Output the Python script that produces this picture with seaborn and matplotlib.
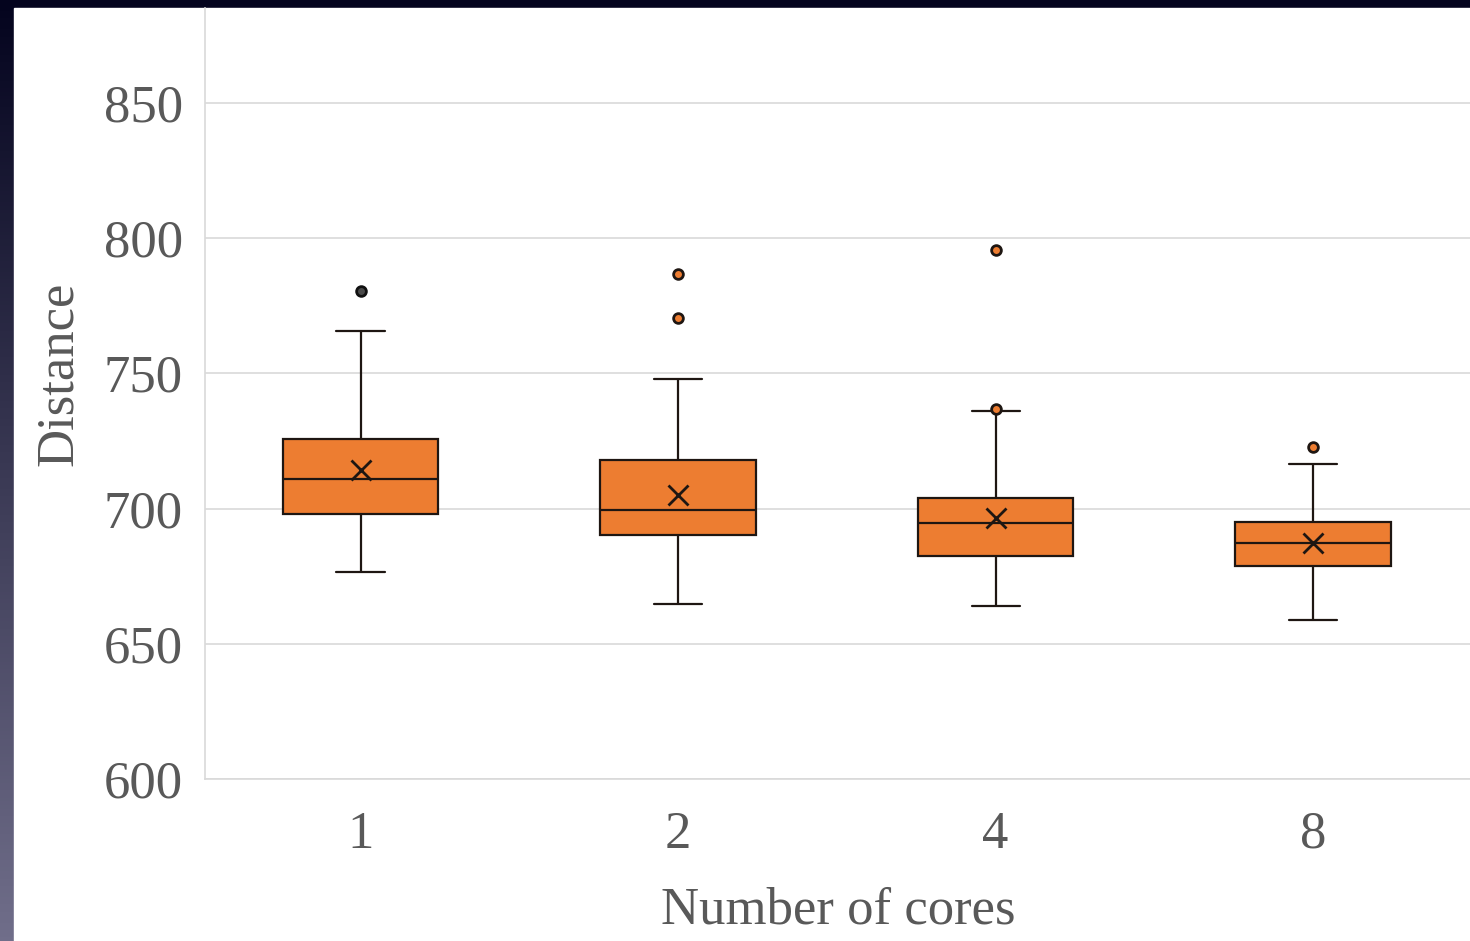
import numpy as np
import pandas as pd
import matplotlib
matplotlib.use("Agg")
import matplotlib.pyplot as plt
from matplotlib.patches import Rectangle
import seaborn as sns

# ---- data (samples reproducing the box statistics) ----
cores = ["1", "2", "4", "8"]
dist_1 = [676.6, 682, 688, 694, 698.0, 701, 704, 708, 710.9, 712, 715, 719,
          725.7, 729.0, 733.7, 765.7, 780.5]
dist_2 = [664.7, 666, 668, 672, 690.2, 691, 692, 694, 699.5, 700, 701, 702,
          718.0, 721.4, 747.9, 770.5, 786.8]
dist_4 = [664.0, 664.5, 666, 668, 672, 682.4, 683, 684, 686, 689, 694.7, 695,
          696, 698, 700, 704.0, 705.0, 706.1, 736.2, 737.0, 795.6]
dist_8 = [658.8, 663, 668, 673, 678.8, 680, 682, 685, 687.3, 689, 691, 693,
          695.0, 698.0, 702.9, 716.5, 722.8]
y_ticks = [600, 650, 700, 750, 800, 850]

samples = [dist_1, dist_2, dist_4, dist_8]
df = pd.DataFrame({
    "Number of cores": np.repeat(cores, [len(s) for s in samples]),
    "Distance": np.concatenate(samples),
})

# ---- style ----
sns.set_style("whitegrid")
plt.rcParams["font.family"] = ["Liberation Serif", "DejaVu Serif"]
TEXT = "#595959"
GRID = "#d9d9d9"
ORANGE = "#ED7D31"
DARK = "#1e1612"

W, H = 1470, 941
fig = plt.figure(figsize=(W / 100, H / 100), dpi=100)

# dark screenshot frame on top/left
bg = fig.add_axes([0, 0, 1, 1], zorder=-10)
bg.set_axis_off()
top = np.array([4, 4, 30]) / 255
bot = np.array([112, 110, 138]) / 255
t = np.linspace(0, 1, 256)[:, None]
grad = (top[None, :] * (1 - t) + bot[None, :] * t)[:, None, :]
bg.imshow(grad, extent=[0, 1, 0, 1], aspect="auto", origin="upper")
bg.add_patch(Rectangle((14 / W, 0), 1, 1 - 8 / H, color="white",
                       transform=bg.transAxes, zorder=2))
bg.set_xlim(0, 1)
bg.set_ylim(0, 1)

ax = fig.add_axes([205 / W, 1 - 779 / H, 1267 / W, 771 / H])
ax.set_facecolor("white")

sns.boxplot(
    data=df, x="Number of cores", y="Distance", order=cores, ax=ax,
    color=ORANGE, saturation=1, width=0.49, linecolor=DARK, linewidth=1.6,
    capwidths=0.152,
    flierprops=dict(marker="o", markerfacecolor=ORANGE, markeredgecolor=DARK,
                    markersize=7, markeredgewidth=2),
    showmeans=True,
    meanprops=dict(marker="x", markeredgecolor=DARK, markerfacecolor=DARK,
                   markersize=14, markeredgewidth=2),
)

# first group's outlier is drawn dark in the reference
for ln in ax.lines:
    xd = np.asarray(ln.get_xdata(), dtype=float)
    if ln.get_marker() == "o" and len(xd) and np.allclose(xd, 0):
        ln.set_markerfacecolor("#4a4a4a")
        ln.set_markeredgecolor("#111111")

ax.set_xlim(-0.49, 3.5)
ax.set_ylim(600, 885.1)
ax.set_yticks(y_ticks)
ax.grid(axis="y", color=GRID, linewidth=1.2)
ax.grid(axis="x", visible=False)
for side in ["top", "right"]:
    ax.spines[side].set_visible(False)
for side in ["left", "bottom"]:
    ax.spines[side].set_color(GRID)
    ax.spines[side].set_linewidth(1.2)

ax.tick_params(axis="y", length=0, pad=16, labelsize=38, labelcolor=TEXT)
ax.tick_params(axis="x", length=0, pad=23, labelsize=38, labelcolor=TEXT)

ax.set_xlabel("Number of cores", fontsize=38, color=TEXT)
ax.set_ylabel("Distance", fontsize=38, color=TEXT)
ax.xaxis.set_label_coords((838 - 205) / 1267, (779 - 887) / 771)
ax.yaxis.set_label_coords((83 - 205) / 1267, (779 - 374) / 771)

fig.savefig("out.png", dpi=100)
